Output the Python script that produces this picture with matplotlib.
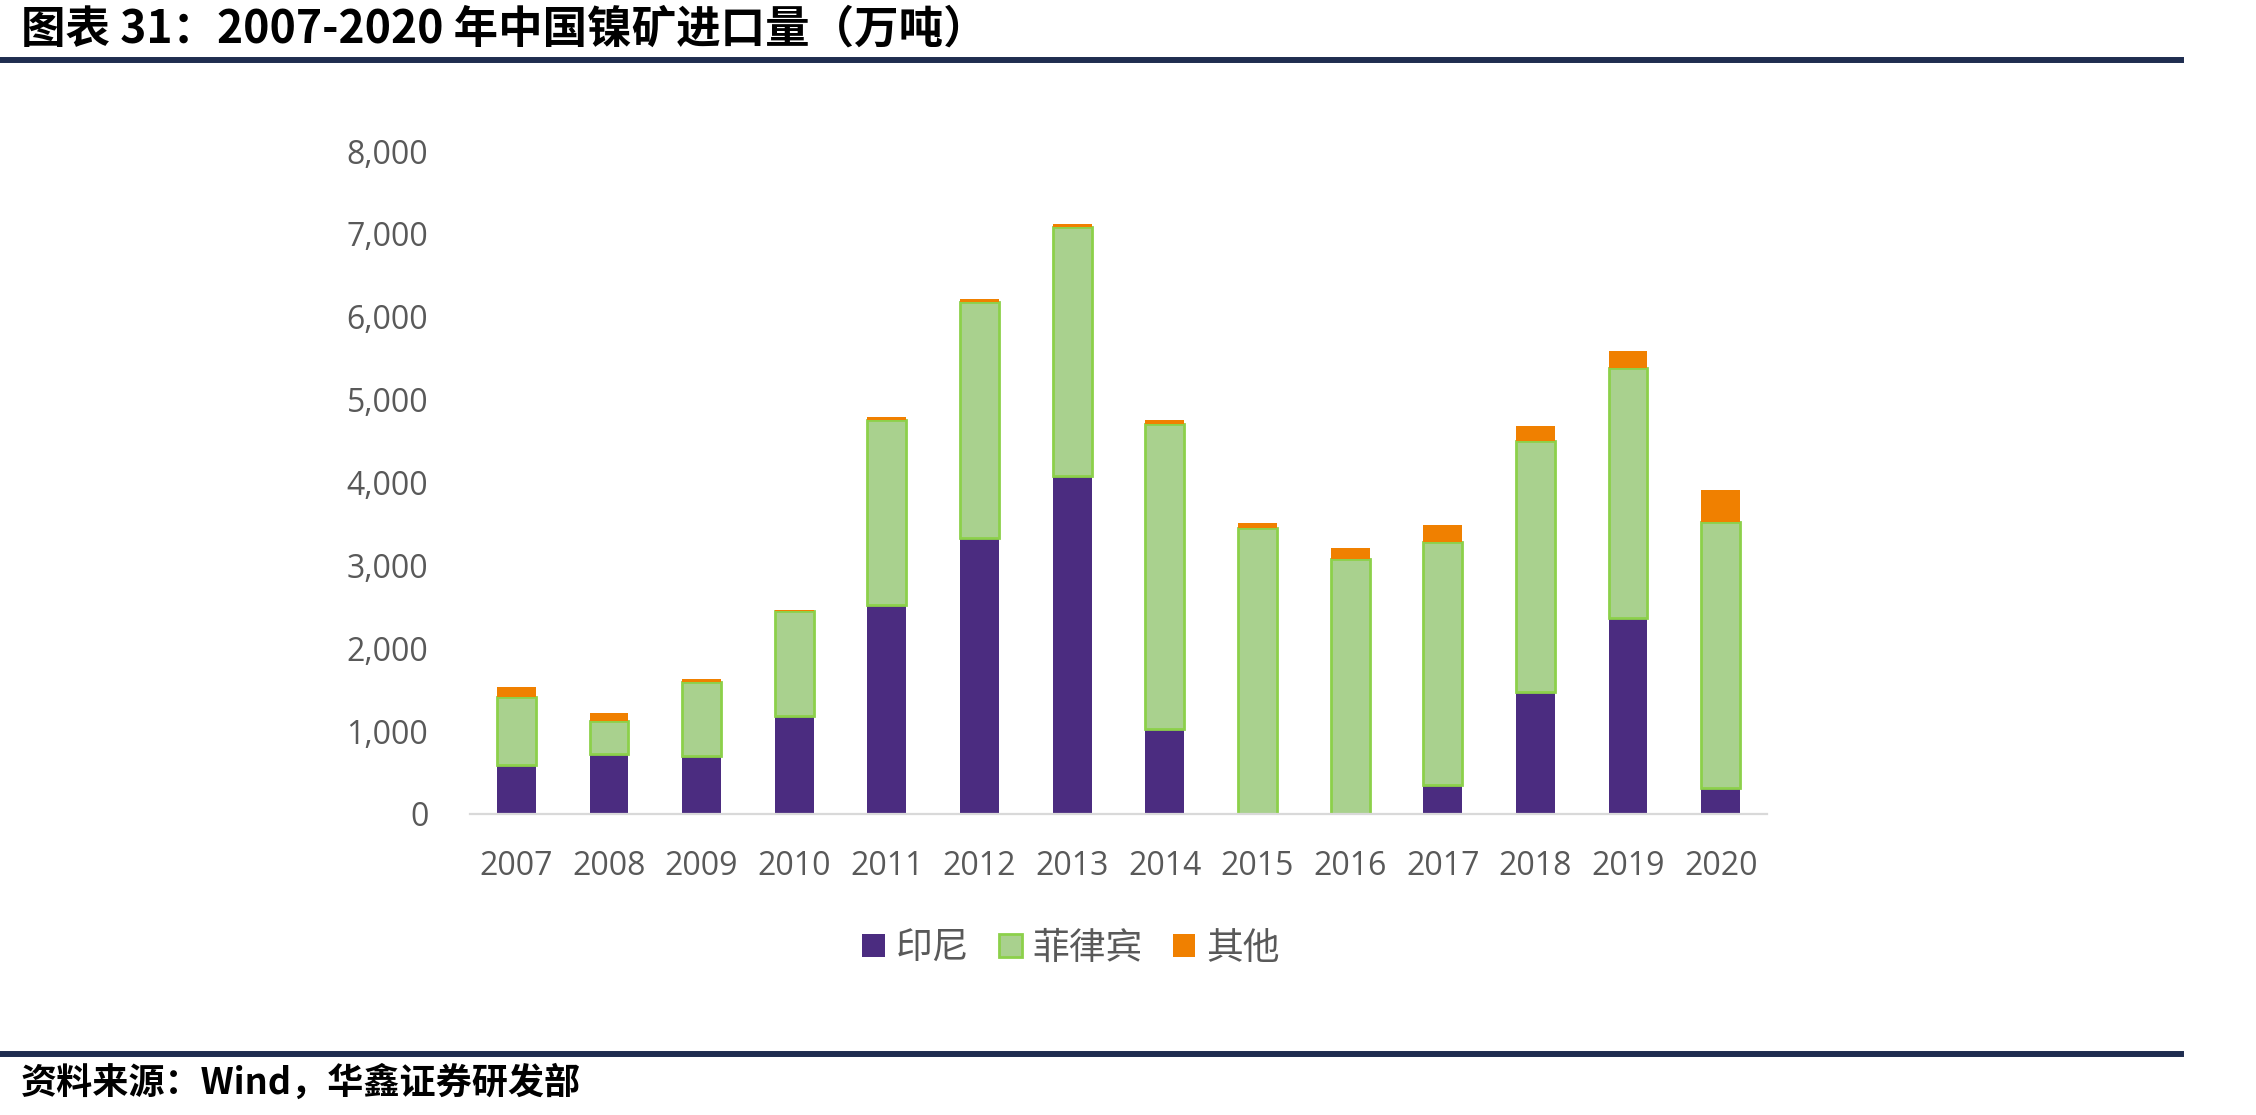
import matplotlib
matplotlib.use("Agg")
import matplotlib.pyplot as plt
from matplotlib.patches import Patch
from matplotlib.lines import Line2D
import numpy as np

# 2007-2020 China nickel ore imports by source (10k tonnes)
years = ["2007", "2008", "2009", "2010", "2011", "2012", "2013",
         "2014", "2015", "2016", "2017", "2018", "2019", "2020"]
indonesia = [590, 729, 694, 1180, 2517, 3333, 4080, 1024, 0, 0, 347, 1476, 2361, 312]
philippines = [816, 399, 903, 1268, 2240, 2847, 3003, 3681, 3455, 3073, 2934, 3021, 3021, 3212]
others = [122, 87, 35, 17, 35, 35, 35, 52, 52, 139, 209, 190, 208, 382]
series_names = ["印尼", "菲律宾", "其他"]

C_IDN, C_PHL, C_PHL_EDGE, C_OTH = "#4B2C80", "#A9D18E", "#8CD04A", "#F08000"
GRAY, NAVY = "#595959", "#1F2D50"
CJK = ["Noto Sans CJK SC", "DejaVu Sans"]
NUM = "Open Sans"

W, H, DPI = 2256, 1115, 100
fig = plt.figure(figsize=(W / DPI, H / DPI), dpi=DPI)
ax = fig.add_axes([470 / W, 1 - 814 / H, (1767 - 470) / W, (814 - 151) / H])

x = np.arange(len(years))
bw = 0.42
idn = np.array(indonesia)
phl = np.array(philippines)
oth = np.array(others)
ax.bar(x, idn, bw, color=C_IDN, linewidth=0, zorder=2)
ax.bar(x, phl, bw, bottom=idn, color=C_PHL, edgecolor=C_PHL_EDGE, linewidth=2, zorder=2)
ax.bar(x, oth, bw, bottom=idn + phl, color=C_OTH, linewidth=0, zorder=2)

ax.set_xlim(-0.5, len(years) - 0.5)
ax.set_ylim(0, 8000)
ax.set_yticks(range(0, 8001, 1000))
ax.set_yticklabels([f"{v:,}" for v in range(0, 8001, 1000)])
ax.set_xticks(x)
ax.set_xticklabels(years)
for s in ["left", "right", "top"]:
    ax.spines[s].set_visible(False)
ax.spines["bottom"].set_color("#D9D9D9")
ax.spines["bottom"].set_linewidth(1.6)
ax.tick_params(axis="both", length=0, labelcolor=GRAY, labelsize=23)
ax.tick_params(axis="x", pad=26)
ax.tick_params(axis="y", pad=30)
for lb in ax.get_xticklabels() + ax.get_yticklabels():
    lb.set_fontfamily(NUM)

handles = [Patch(facecolor=C_IDN, edgecolor="none"),
           Patch(facecolor=C_PHL, edgecolor=C_PHL_EDGE, linewidth=2),
           Patch(facecolor=C_OTH, edgecolor="none")]
leg = fig.legend(handles, series_names, loc="center", bbox_to_anchor=(1071 / W, 1 - 948 / H),
                 ncol=3, frameon=False, handlelength=0.62, handleheight=0.62,
                 handletextpad=0.3, columnspacing=0.8,
                 prop={"family": CJK, "size": 26.5})
for t in leg.get_texts():
    t.set_color(GRAY)

# header / footer
fig.text(21 / W, 1 - 30 / H, "图表 31：2007-2020 年中国镍矿进口量（万吨）", family=CJK,
         fontsize=32, fontweight="bold", va="center", ha="left", color="black")
fig.add_artist(Line2D([0, 2181 / W], [1 - 60 / H] * 2, color=NAVY, lw=4.3, transform=fig.transFigure))
fig.add_artist(Line2D([0, 2181 / W], [1 - 1054 / H] * 2, color=NAVY, lw=4.3, transform=fig.transFigure))
fig.text(21 / W, 1 - 1083 / H, "资料来源：Wind，华鑫证券研发部", family=CJK,
         fontsize=26, fontweight="bold", va="center", ha="left", color="black")

fig.savefig("out.png", dpi=DPI)
plt.close(fig)
